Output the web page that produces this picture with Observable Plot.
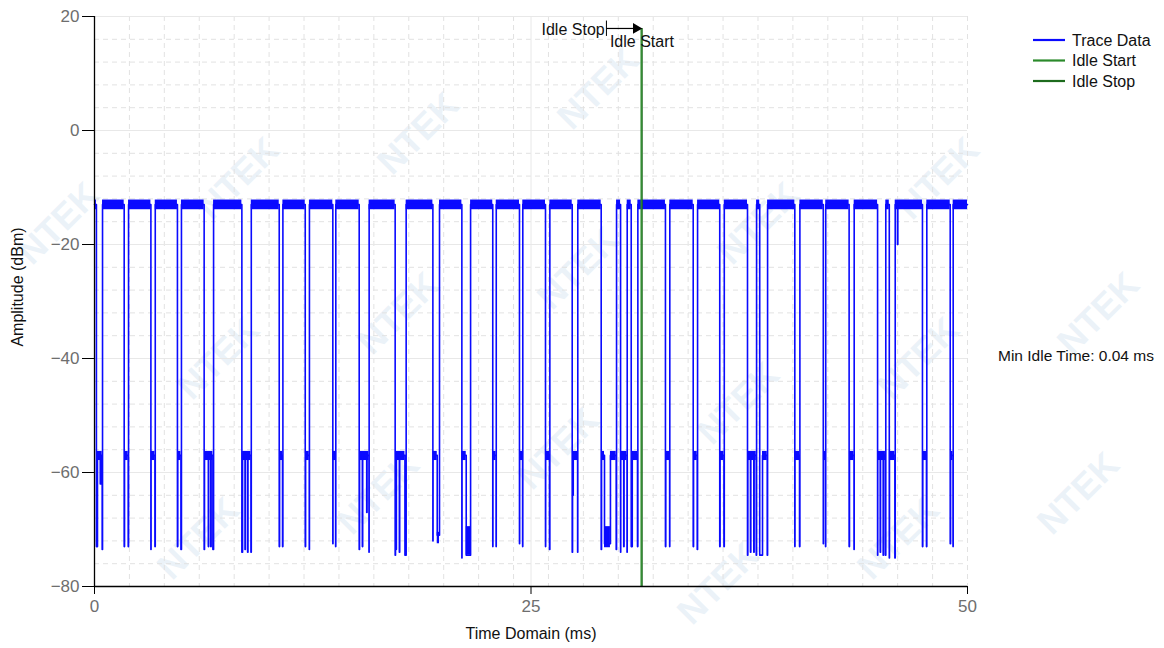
<!DOCTYPE html>
<html><head><meta charset="utf-8">
<script src="https://cdn.jsdelivr.net/npm/d3@7"></script>
<script src="https://cdn.jsdelivr.net/npm/@observablehq/plot@0.6"></script>
<style>
body{margin:0;background:#fff}
#chart{position:relative;width:1164px;height:648px;overflow:hidden}
</style>
</head><body><div id="chart"></div>
<script>
// ---- tick labels ----
const xTicks = [0, 25, 50];
const yTicks = [20, 0, -20, -40, -60, -80];

// ---- levels (dBm) ----
const HIGH = -13;          // burst (on) level
const ACK = -57;           // short response level

// ---- bursts (ms) ----
const burstStart = [0, 0.46, 1.95, 3.48, 4.98, 6.82, 8.98, 10.79, 12.31, 13.82, 15.73, 17.85, 19.76, 21.54, 23.01, 24.53, 26.08, 27.68, 29.90, 30.51, 31.12, 32.95, 34.54, 36.07, 37.92, 38.55, 40.40, 41.88, 43.51, 45.32, 45.86, 47.67, 49.18];
const burstEnd   = [0.11, 1.70, 3.23, 4.75, 6.28, 8.44, 10.58, 12.07, 13.65, 15.16, 17.22, 19.38, 21.04, 22.81, 24.34, 25.83, 27.36, 29.02, 30.13, 30.74, 32.70, 34.29, 35.81, 37.40, 38.10, 40.11, 41.74, 43.22, 44.85, 45.52, 47.42, 49.01, 50];
// floor level reached right after each burst ends
const gapFloor   = [-73, -73, -73.5, -73, -73.5, -74, -73, -73, -72.5, -73.5, -74.5, -72, -75, -73, -72.5, -73, -74, -73.5, -74, -73, -73, -73, -73, -74.5, -74.5, -73, -72.5, -73, -74.5, -75, -73, -72.5];

// ---- -57 dBm segments (ms) and floor level after each ----
const ackStart = [0.17, 1.72, 3.24, 4.77, 6.30, 8.48, 10.60, 12.09, 13.66, 15.18, 17.24, 19.39, 21.05, 22.82, 24.35, 25.84, 27.38, 29.04, 29.55, 30.14, 30.80, 32.72, 34.31, 35.83, 37.42, 38.26, 40.12, 41.75, 43.24, 44.86, 45.53, 47.44, 49.03];
const ackEnd   = [0.44, 1.93, 3.46, 4.95, 6.78, 8.96, 10.77, 12.30, 13.81, 15.72, 17.78, 19.63, 21.29, 23.00, 24.52, 26.06, 27.67, 29.21, 29.88, 30.50, 31.10, 32.94, 34.52, 36.05, 37.90, 38.53, 40.38, 41.87, 43.50, 45.30, 45.84, 47.65, 49.17];
const ackFloor = [-73.5, -73, -73, -73.5, -73.5, -74, -73, -73.5, -73, -74, -74.5, -71, -74.5, -73, -73, -73.5, -74, -72.5, -73.5, -74, -73, -73, -73.5, -73, -74.5, -74.5, -73, -73, -73.5, -74.5, -75, -73, -73];

// ---- brief spikes inside segments (ms, ms, dBm) ----
const dipStart = [0.33, 6.52, 6.66, 8.62, 8.77, 15.34, 15.59, 17.27, 17.46, 27.40, 30.31, 37.57, 37.76, 45.00, 45.17, 45.99];
const dipEnd   = [0.37, 6.54, 6.68, 8.64, 8.79, 15.36, 15.61, 17.29, 17.48, 27.42, 30.33, 37.59, 37.78, 45.02, 45.19, 46.01];
const dipLevel = [-62, -73, -73, -73.5, -74, -73, -67, -73.5, -74, -64, -73, -74, -74, -74, -74.5, -20];

// ---- noisy floor blocks (ms, ms, dBm top, dBm bottom) ----
const blockStart = [19.63, 21.29, 29.21];
const blockEnd   = [19.76, 21.54, 29.55];
const blockTop   = [-70.5, -69.5, -69.5];
const blockBot   = [-72.5, -74.5, -73.2];

// ---- idle markers ----
const IDLE_STOP_MARK = 29.32;
const IDLE_START = 31.31;
const IDLE_STOP = 31.36;
const MARK_LEVEL = 17.9;

const BLUE = "#0a0aff";
const GREEN1 = "#2b8a2b";
const GREEN2 = "#1d6b1d";

// build step trace
let base = [];
burstStart.forEach((t, i) => base.push({t, v: HIGH}));
burstEnd.slice(0, -1).forEach((t, i) => base.push({t, v: gapFloor[i]}));
ackStart.forEach((t, i) => { base.push({t, v: ACK}); base.push({t: ackEnd[i], v: ackFloor[i]}); });
base.sort((a, b) => a.t - b.t);
const levelAt = t => { let v = base[0].v; for (const p of base) { if (p.t <= t) v = p.v; else break; } return v; };
const extra = [];
dipStart.forEach((t, i) => { const back = levelAt(dipEnd[i]); extra.push({t, v: dipLevel[i]}); extra.push({t: dipEnd[i], v: back}); });
const trace = base.concat(extra).sort((a, b) => a.t - b.t);
trace.push({t: 50, v: HIGH});

const minorX = d3.range(0, 51, 2);
const minorY = d3.range(-80, 21, 4);

const plot = Plot.plot({
  width: 1164, height: 648,
  marginLeft: 94, marginRight: 197, marginTop: 16, marginBottom: 62,
  x: {domain: [0, 50]},
  y: {domain: [-80, 20]},
  style: {fontFamily: "'Liberation Sans', Arial, sans-serif", fontSize: "16px", background: "transparent", overflow: "visible"},
  marks: [
    Plot.gridX(minorX, {stroke: "#e2e2e2", strokeOpacity: 1, strokeDasharray: "5,4"}),
    Plot.gridY(minorY, {stroke: "#e2e2e2", strokeOpacity: 1, strokeDasharray: "5,4"}),
    Plot.gridX([25], {stroke: "#e8e8e8", strokeOpacity: 1}),
    Plot.gridY(yTicks, {stroke: "#e8e8e8", strokeOpacity: 1}),
    Plot.rect(burstStart, {x1: burstStart, x2: burstEnd, y1: -12.2, y2: -13.9, fill: BLUE}),
    Plot.rect(ackStart, {x1: ackStart, x2: ackEnd, y1: -56.3, y2: -57.9, fill: BLUE}),
    Plot.rect(blockStart, {x1: blockStart, x2: blockEnd, y1: blockTop, y2: blockBot, fill: BLUE}),
    Plot.line(trace, {x: "t", y: "v", curve: "step-after", stroke: BLUE, strokeWidth: 1.6}),
    Plot.ruleX([IDLE_STOP], {y1: MARK_LEVEL, y2: -80, stroke: GREEN2, strokeWidth: 1.4}),
    Plot.ruleX([IDLE_START], {y1: MARK_LEVEL, y2: -80, stroke: GREEN1, strokeWidth: 1.4}),
    Plot.ruleX([IDLE_STOP_MARK], {y1: 16.5, y2: 19.2, stroke: "black", strokeWidth: 1}),
    Plot.link([0], {x1: IDLE_STOP_MARK, x2: IDLE_START - 0.3, y1: MARK_LEVEL, y2: MARK_LEVEL, stroke: "black", strokeWidth: 1.2}),
    Plot.dot([0], {x: IDLE_START - 0.29, y: MARK_LEVEL, symbol: "triangle", rotate: 90, r: 4, fill: "black", stroke: null}),
    Plot.text(["Idle Stop"], {x: IDLE_STOP_MARK - 0.1, y: 17.6, text: d => d, textAnchor: "end", fontSize: 16, fill: "#111"}),
    Plot.text(["Idle Start"], {x: IDLE_STOP_MARK + 0.2, y: 15.5, text: d => d, textAnchor: "start", fontSize: 16, fill: "#111"}),
    Plot.axisY(yTicks, {tickSize: 12, tickPadding: 3, fontSize: 17, fill: "#6e6e6e", stroke: "black", label: null}),
    Plot.axisX(xTicks, {tickSize: 8, tickPadding: 5, fontSize: 17, fill: "#6e6e6e", stroke: "black", label: null}),
    Plot.ruleX([0], {stroke: "black", strokeWidth: 1.3}),
    Plot.ruleY([-80], {stroke: "black", strokeWidth: 1.3})
  ]
});
document.getElementById("chart").appendChild(plot);

const svg = d3.select(plot);
// watermark (behind everything)
const wm = svg.insert("g", ":first-child").attr("pointer-events", "none");
for (let i = -3; i <= 8; i++) for (let j = -2; j <= 5; j++) {
  const cx = 80 + 180 * i + 160 * j, cy = 45 - 45 * i + 135 * j;
  if (cx < 60 || cx > 1104 || cy < 60 || cy > 588) continue;
  wm.append("text").attr("transform", `translate(${cx},${cy}) rotate(-45)`)
    .attr("text-anchor", "middle").attr("dominant-baseline", "middle")
    .attr("font-family", "'Liberation Sans', Arial, sans-serif").attr("font-weight", "bold")
    .attr("font-size", 36).attr("fill", "#d3e3f0").attr("fill-opacity", 0.45).text("NTEK");
}
// axis titles
svg.append("text").attr("transform", "translate(23,287) rotate(-90)").attr("text-anchor", "middle")
  .attr("font-size", 16).attr("fill", "#111").text("Amplitude (dBm)");
svg.append("text").attr("x", 531).attr("y", 639).attr("text-anchor", "middle")
  .attr("font-size", 16).attr("fill", "#111").text("Time Domain (ms)");
// legend
const legend = [["Trace Data", BLUE], ["Idle Start", GREEN1], ["Idle Stop", GREEN2]];
legend.forEach(([name, c], k) => {
  const y = 40 + k * 20.5;
  svg.append("line").attr("x1", 1033).attr("x2", 1065).attr("y1", y).attr("y2", y).attr("stroke", c).attr("stroke-width", 2.2);
  svg.append("text").attr("x", 1072).attr("y", y).attr("dy", "0.35em").attr("text-anchor", "start")
    .attr("font-size", 16).attr("fill", "#111").text(name);
});
svg.append("text").attr("x", 998).attr("y", 356).attr("dy", "0.35em").attr("text-anchor", "start")
  .attr("font-size", 15.5).attr("fill", "#111").text("Min Idle Time: 0.04 ms");
</script>
</body></html>
